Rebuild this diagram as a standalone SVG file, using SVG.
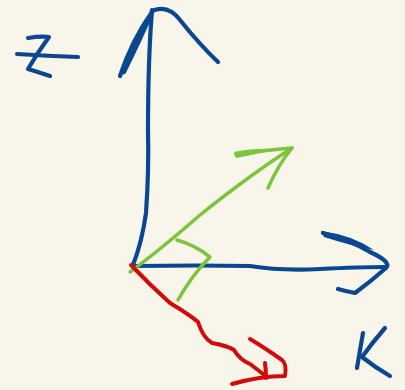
<svg xmlns="http://www.w3.org/2000/svg" width="405" height="390" viewBox="0 0 405 390">
<style>
.s{fill:none;stroke-linecap:round;stroke-linejoin:round}
.b{stroke:#0a4790;stroke-width:4.2}
.g{stroke:#7cc43a;stroke-width:3.5}
.r{stroke:#d20a0a;stroke-width:4}
</style>
<rect width="405" height="390" fill="#f8f6eb"/>
<g id="label-z">
<path class="s b" d="M28 38 Q40 36 49 37 Q38 52 28 69 Q38 72 50 76"/>
<path class="s b" d="M17 54 Q48 56 78 57"/>
</g>
<g id="label-x">
<path class="s b" d="M363 333 Q360 350 357 368"/>
<path class="s b" d="M385 328 Q372 343 362 357 Q376 368 390 376"/>
</g>
<g id="connectors">
<g id="axis-z">
<path class="s b" d="M133 265 Q142 242 146 213 Q149 170 148 130 Q148 60 152 10"/>
<path class="s b" d="M120 76 Q132 40 152 12 Q140 40 124 72"/>
<path class="s b" d="M152 11 Q168 4 180 20 Q200 45 218 62"/>
</g>
<g id="axis-y">
<path class="s b" d="M133 266 Q200 265 250 266 Q280 271 320 269 Q360 267 385 267"/>
<path class="s b" d="M323 233 Q350 240 370 252 Q392 262 386 268 Q370 282 355 293 Q345 291 338 289"/>
<path d="M321 231 Q352 235 374 250 Q352 246 324 237 Z" fill="#0a4790"/>
</g>
<g id="axis-green">
<path class="s g" d="M130 272 Q160 250 200 215 Q250 175 292 148"/>
<path class="s g" d="M236 155 Q265 150 292 148 Q278 165 268 188" stroke-width="4"/>
<path d="M234 152 Q255 148 272 149 Q255 155 236 158 Z" fill="#7cc43a"/>
<path class="s g" d="M177 240 Q195 245 210 257 Q192 275 178 300"/>
</g>
<g id="axis-red">
<path class="s r" d="M131 265 Q150 285 170 303 Q190 315 198 322 Q203 338 212 343 Q228 346 234 350 Q240 360 250 364 Q258 370 263 374"/>
<path class="s r" d="M232 384 Q260 376 285 376 Q287 364 282 360 Q265 348 250 339"/>
<path class="s r" d="M265 363 Q266 370 266 378"/>
</g>
</g>
</svg>
